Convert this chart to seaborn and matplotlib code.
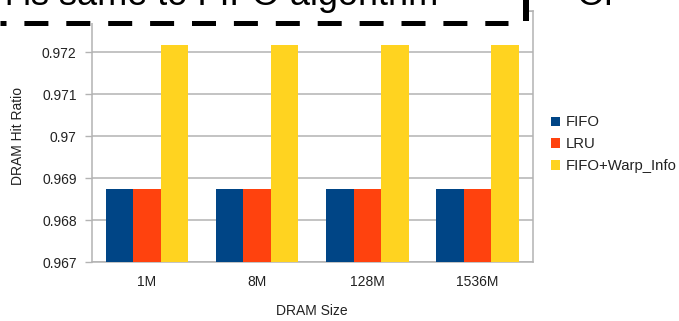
import matplotlib
matplotlib.use("Agg")
import matplotlib.pyplot as plt
from matplotlib.lines import Line2D
from matplotlib.patches import Rectangle
from matplotlib.ticker import FixedLocator
import seaborn as sns
import pandas as pd

# DRAM hit ratio per DRAM size and replacement policy
sizes = ["1M", "8M", "128M", "1536M"]
policies = ["FIFO", "LRU", "FIFO+Warp_Info"]
fifo = [0.96875, 0.96875, 0.96875, 0.96875]
lru = [0.96875, 0.96875, 0.96875, 0.96875]
fifo_warp = [0.97218, 0.97218, 0.97218, 0.97218]
yticks = [0.967, 0.968, 0.969, 0.97, 0.971, 0.972]
colors = ["#004586", "#ff420e", "#ffd320"]

df = pd.DataFrame({
    "DRAM Size": sizes * 3,
    "Hit Ratio": fifo + lru + fifo_warp,
    "Policy": [p for p in policies for _ in sizes],
})

sns.set_theme(style="white")
plt.rcParams["font.family"] = ["Liberation Sans", "DejaVu Sans"]
plt.rcParams["lines.scale_dashes"] = False

W, H = 679, 321
fig = plt.figure(figsize=(W / 100, H / 100), dpi=100)
fig.patch.set_facecolor("white")

def fx(px):
    return px / W

def fy(py):
    return 1 - py / H

ax_left, ax_right, ax_top, ax_bottom = 92, 532.5, 10.5, 262
ax = fig.add_axes([fx(ax_left), fy(ax_bottom), fx(ax_right - ax_left), (ax_bottom - ax_top) / H])

sns.barplot(data=df, x="DRAM Size", y="Hit Ratio", hue="Policy", order=sizes,
            hue_order=policies, palette=colors, saturation=1, width=0.75,
            gap=0, linewidth=0, ax=ax, zorder=3)

grid_c = "#b3b3b3"
text_c = "#222222"
ax.set_ylim(0.967, 0.973)
ax.set_xlim(-0.5, 3.5)
ax.yaxis.set_major_locator(FixedLocator(yticks))
ax.set_yticklabels([f"{v:g}" for v in yticks])
for v in yticks + [0.973]:
    ax.axhline(v, color=grid_c, lw=1.1, zorder=1)

ax.set_xticks(range(len(sizes)))
ax.set_xticklabels(sizes)
ax.set_xticks([i - 0.5 for i in range(len(sizes) + 1)], minor=True)
ax.tick_params(axis="x", which="major", length=0, pad=9, labelsize=10, labelcolor=text_c)
ax.tick_params(axis="x", which="minor", length=5, width=1, color=grid_c, direction="out")
ax.tick_params(axis="y", which="major", length=5, width=1, color=grid_c, direction="out",
               pad=6, labelsize=10, labelcolor=text_c, left=True)

for s in ax.spines.values():
    s.set_color(grid_c)
    s.set_linewidth(1.1)

ax.set_xlabel("DRAM Size", fontsize=10, color=text_c, labelpad=11)
ax.set_ylabel("DRAM Hit Ratio", fontsize=10, color=text_c, labelpad=12)

handles, labels = ax.get_legend_handles_labels()
ax.legend(handles, labels, loc="upper left", bbox_to_anchor=(fx(551), fy(115.5)),
          bbox_transform=fig.transFigure, frameon=False, fontsize=10.7,
          handlelength=0.6, handleheight=0.6, handletextpad=0.4,
          labelspacing=0.53, borderpad=0, borderaxespad=0, labelcolor=text_c)

# callout box cut off at the top edge
fig.patches.append(Rectangle((0, fy(23)), fx(526), 23 / H, transform=fig.transFigure,
                             facecolor="white", edgecolor="none", zorder=5))
px2pt = 0.72
fig.lines.append(Line2D([0, fx(508)], [fy(23), fy(23)], transform=fig.transFigure,
                        color="black", lw=5 * px2pt, solid_capstyle="butt",
                        dash_capstyle="butt",
                        linestyle=(18 * px2pt, (24 * px2pt, 17.9 * px2pt)), zorder=6))
fig.lines.append(Line2D([fx(526), fx(526)], [fy(-2), fy(21)], transform=fig.transFigure,
                        color="black", lw=6 * px2pt, solid_capstyle="butt", zorder=6))
fig.text(fx(438), fy(5), "m is same to FIFO algorithm", ha="right", va="baseline",
         fontsize=26, color="black", zorder=7)
fig.text(fx(576), fy(5), "Or", ha="left", va="baseline", fontsize=26, color="black", zorder=7)

fig.savefig("out.png", dpi=100, facecolor="white")
